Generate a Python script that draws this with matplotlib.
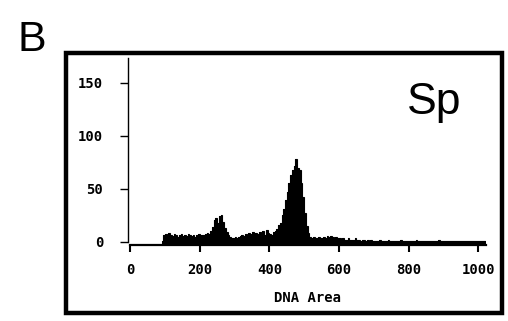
import numpy as np
import matplotlib
matplotlib.use("Agg")
import matplotlib.pyplot as plt
from matplotlib.patches import Rectangle

# histogram of DNA area, 5-unit channels starting at 95
bin_start = 95
bin_width = 5
counts = [
    # 95 - 230
    6, 7, 5, 8, 6, 5, 7, 6, 4, 6, 7, 5, 6, 5, 7, 6, 5, 6, 4, 6, 7, 5, 6, 6, 7, 8, 7, 10,
    # 235 - 285 (2N peak)
    14, 20, 22, 18, 24, 25, 19, 13, 9, 6, 4,
    # 290 - 420
    3, 3, 4, 3, 4, 5, 6, 5, 7, 6, 8, 7, 9, 6, 8, 7, 9, 8, 10, 6, 11, 8, 7, 6, 9, 10, 12,
    # 425 - 515 (main peak)
    16, 18, 25, 31, 39, 47, 55, 63, 68, 71, 78, 70, 68, 55, 42, 27, 15, 8, 4,
    # 520 - 700
    3, 4, 3, 3, 4, 3, 3, 4, 3, 5, 4, 5, 4, 3, 4, 3, 3, 2, 3, 2, 2, 3, 2, 2, 2, 3, 2, 2,
    1, 2, 2, 1, 2, 1, 2, 1, 1,
    # 705 - 1015
    1, 1, 2, 1, 1, 1, 1, 2, 1, 1, 1, 1, 1, 1, 2, 1, 1, 1, 1, 1, 1, 1, 1, 2, 1, 1, 1, 1,
    1, 1, 1, 1, 1, 1, 1, 1, 2, 1, 1, 1, 1, 1, 1, 1, 1, 1, 1, 1, 1, 1, 1, 1, 1, 1, 1, 1,
    1, 1, 1, 1, 1, 1, 1,
]
x_ticks = [0, 200, 400, 600, 800, 1000]
y_ticks = [0, 50, 100, 150]

edges = bin_start + bin_width * np.arange(len(counts) + 1)

fig = plt.figure(figsize=(5.08, 3.21), dpi=100)
ax = fig.add_axes([0.252, 0.237, 0.705, 0.582])

ax.stairs(counts, edges, fill=True, color="black", baseline=0)
ax.stairs(counts, edges, color="black", linewidth=0.8, baseline=0)
ax.plot([edges[0], edges[-1]], [0, 0], color="black", linewidth=2.2)

ax.set_xlim(-6, 1023)
ax.set_ylim(-3.1, 173.3)

for s in ["top", "right"]:
    ax.spines[s].set_visible(False)
ax.spines["left"].set_bounds(0, 173.3)
ax.spines["left"].set_linewidth(1.0)
ax.spines["bottom"].set_bounds(0, 1023)
ax.spines["bottom"].set_linewidth(1.6)

mono = {"family": "DejaVu Sans Mono", "weight": "bold", "size": 10}
ax.set_xticks(x_ticks)
ax.set_yticks(y_ticks)
ax.set_xticklabels([str(v) for v in x_ticks], fontdict=mono)
ax.set_yticklabels([str(v) for v in y_ticks], fontdict=mono)
ax.tick_params(axis="x", direction="out", length=5, width=1.5, pad=8)
ax.tick_params(axis="y", direction="out", length=6, width=1.0, pad=12)
ax.set_xlabel("DNA Area", fontdict=mono, labelpad=10)

ax.text(0.78, 0.70, "Sp", transform=ax.transAxes, fontsize=32,
        family="Liberation Sans", ha="left", va="baseline")

fig.text(0.035, 0.84, "B", fontsize=31, family="Liberation Sans",
         ha="left", va="baseline")

fig.add_artist(Rectangle((0.130, 0.025), 0.858, 0.81, transform=fig.transFigure,
                         fill=False, edgecolor="black", linewidth=3.2))

fig.savefig("out.png", dpi=100)
